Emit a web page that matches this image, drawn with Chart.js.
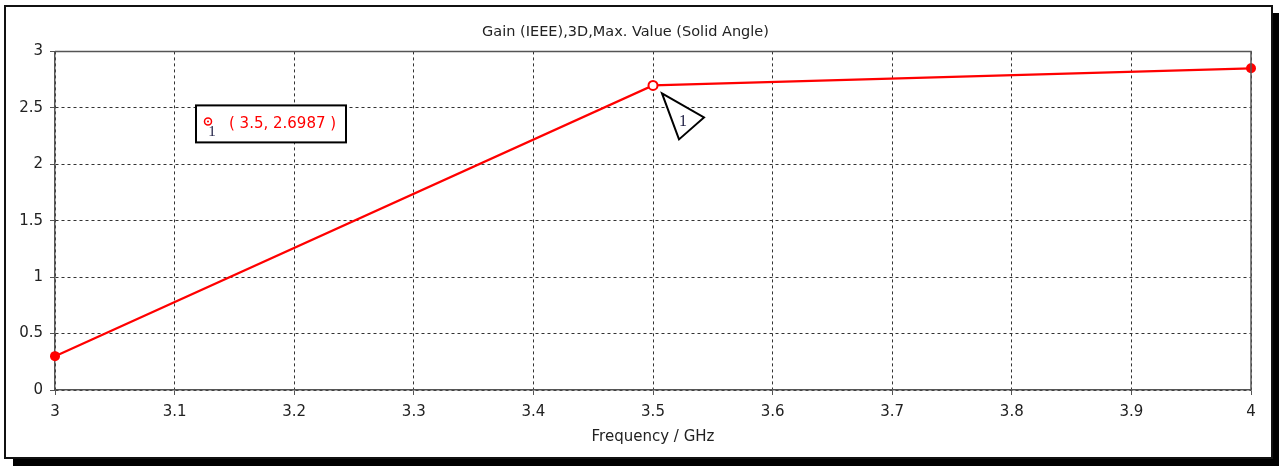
<!DOCTYPE html>
<html>
<head>
<meta charset="utf-8">
<script src="https://cdn.jsdelivr.net/npm/chart.js@4"></script>
<style>
  html, body { margin: 0; padding: 0; background: #fff; }
  #wrap { position: relative; width: 1279px; height: 466px; overflow: hidden; }
  #frame {
    position: absolute; left: 4px; top: 5px; width: 1265px; height: 450px;
    border: 2px solid #111; background: #fff;
    box-shadow: 9px 8px 0 #000;
  }
  #gain { position: absolute; left: 0; top: 0; }
</style>
</head>
<body>
<div id="wrap">
  <div id="frame"></div>
  <canvas id="gain" width="1279" height="466"></canvas>
</div>
<script>
var freqs = [3, 3.5, 4];
var gain = [0.3, 2.6987, 2.85];
var xTicks = [3, 3.1, 3.2, 3.3, 3.4, 3.5, 3.6, 3.7, 3.8, 3.9, 4];
var xTickLabels = ["3", "3.1", "3.2", "3.3", "3.4", "3.5", "3.6", "3.7", "3.8", "3.9", "4"];
var yTicks = [0, 0.5, 1, 1.5, 2, 2.5, 3];
var yTickLabels = ["0", "0.5", "1", "1.5", "2", "2.5", "3"];
var markerIdx = 1;

var tickFont = { family: "DejaVu Sans", size: 15 };

var markerPlugin = {
    id: 'markerPlugin',
    afterDraw: function(chart) {
        var ctx = chart.ctx;
        var area = chart.chartArea;
        var xs = chart.scales.x, ys = chart.scales.y;

        // plot frame top/right
        ctx.save();
        ctx.strokeStyle = "#555";
        ctx.lineWidth = 1.5;
        ctx.beginPath();
        ctx.moveTo(area.left, area.top);
        ctx.lineTo(area.right, area.top);
        ctx.lineTo(area.right, area.bottom);
        ctx.stroke();

        // triangle marker pointing at the data point
        var px = xs.getPixelForValue(freqs[markerIdx]);
        var py = ys.getPixelForValue(gain[markerIdx]);
        ctx.beginPath();
        ctx.moveTo(px + 9, py + 8);
        ctx.lineTo(px + 51, py + 32);
        ctx.lineTo(px + 26, py + 54);
        ctx.closePath();
        ctx.fillStyle = "#fff";
        ctx.fill();
        ctx.strokeStyle = "#000";
        ctx.lineWidth = 2;
        ctx.stroke();
        ctx.fillStyle = "#1a1a40";
        ctx.font = "16px 'Liberation Serif'";
        ctx.textAlign = "center";
        ctx.textBaseline = "middle";
        ctx.fillText("1", px + 30, py + 36);

        // label box
        var bx = area.left + 141, by = area.top + 54;
        ctx.fillStyle = "#fff";
        ctx.fillRect(bx, by, 150, 37);
        ctx.strokeStyle = "#000";
        ctx.lineWidth = 2;
        ctx.strokeRect(bx, by, 150, 37);
        ctx.beginPath();
        ctx.arc(bx + 12, by + 16, 3.5, 0, Math.PI * 2);
        ctx.strokeStyle = "#ff0000";
        ctx.lineWidth = 1.5;
        ctx.stroke();
        ctx.beginPath();
        ctx.arc(bx + 12, by + 16, 1, 0, Math.PI * 2);
        ctx.fillStyle = "#ff0000";
        ctx.fill();
        ctx.fillStyle = "#1a1a40";
        ctx.font = "15px 'Liberation Serif'";
        ctx.fillText("1", bx + 16, by + 27);
        ctx.fillStyle = "#ff0000";
        ctx.font = "15px 'DejaVu Sans'";
        ctx.textAlign = "left";
        ctx.fillText("( " + freqs[markerIdx] + ", " + gain[markerIdx] + " )", bx + 33, by + 19);
        ctx.restore();
    }
};

new Chart(document.getElementById("gain").getContext("2d"), {
    type: "line",
    data: {
        datasets: [{
            label: "Gain",
            data: freqs.map(function(f, i) { return { x: f, y: gain[i] }; }),
            borderColor: "#ff0000",
            borderWidth: 2.2,
            pointRadius: [5, 4.5, 5],
            pointBackgroundColor: ["#ff0000", "#ffffff", "#ff0000"],
            pointBorderColor: "#ff0000",
            pointBorderWidth: [0, 2, 0],
            clip: false,
            tension: 0
        }]
    },
    options: {
        responsive: false,
        animation: false,
        devicePixelRatio: 1,
        layout: { padding: { left: 0, right: 28, top: 0, bottom: 0 } },
        plugins: {
            legend: { display: false },
            tooltip: { enabled: false },
            title: {
                display: true,
                text: "Gain (IEEE),3D,Max. Value (Solid Angle)",
                color: "#222",
                font: { family: "DejaVu Sans", size: 14.5, weight: "normal" },
                padding: { top: 24, bottom: 10 }
            }
        },
        scales: {
            x: {
                type: "linear",
                min: 3, max: 4,
                afterBuildTicks: function(s) { s.ticks = xTicks.map(function(v) { return { value: v }; }); },
                afterFit: function(s) { s.height = 76; },
                ticks: {
                    color: "#222", font: tickFont, padding: 8, maxRotation: 0, autoSkip: false,
                    callback: function(v, i) { return xTickLabels[i]; }
                },
                grid: { color: "#333", lineWidth: 1, tickLength: 5, tickColor: "#555" },
                border: { color: "#555", width: 1.5, dash: [3, 3] },
                title: {
                    display: true, text: "Frequency / GHz", color: "#222",
                    font: { family: "DejaVu Sans", size: 15 }, padding: { top: 0, bottom: 20 }
                }
            },
            y: {
                min: 0, max: 3,
                afterBuildTicks: function(s) { s.ticks = yTicks.map(function(v) { return { value: v }; }); },
                afterFit: function(s) { s.width = 55; },
                ticks: {
                    color: "#222", font: tickFont, padding: 7,
                    callback: function(v, i) { return yTickLabels[i]; }
                },
                grid: { color: "#333", lineWidth: 1, tickLength: 5, tickColor: "#555" },
                border: { color: "#555", width: 1.5, dash: [3, 3] }
            }
        }
    },
    plugins: [markerPlugin]
});
</script>
</body>
</html>
